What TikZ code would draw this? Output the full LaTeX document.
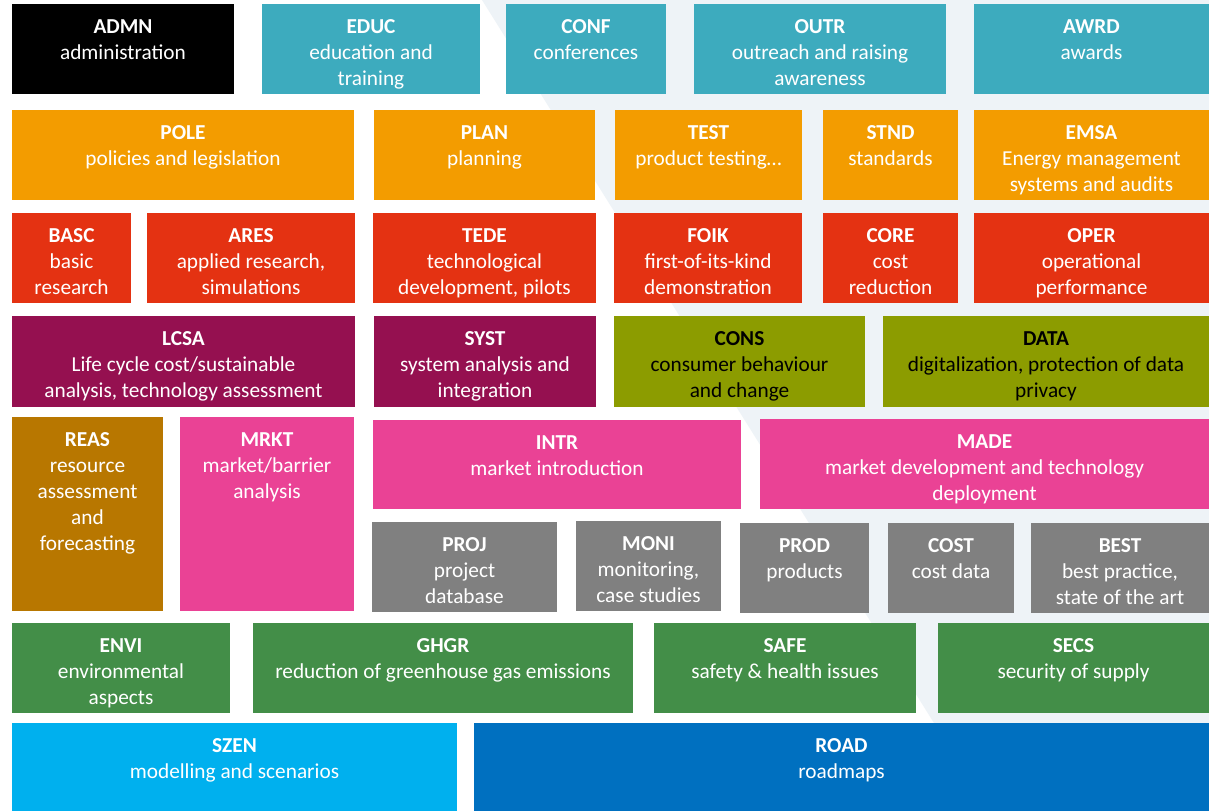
\documentclass[tikz,border=0pt]{standalone}
\usepackage{fontspec}
\setmainfont{Carlito}

% palette of the topic groups
\definecolor{paleback}{RGB}{238,243,247}
\definecolor{tealc}{RGB}{61,171,190}
\definecolor{orangec}{RGB}{243,156,0}
\definecolor{redc}{RGB}{228,50,18}
\definecolor{maroonc}{RGB}{149,16,80}
\definecolor{olivec}{RGB}{140,156,0}
\definecolor{ochrec}{RGB}{184,119,0}
\definecolor{pinkc}{RGB}{234,66,149}
\definecolor{greyc}{RGB}{128,128,128}
\definecolor{greenc}{RGB}{67,142,72}
\definecolor{skyc}{RGB}{0,176,238}
\definecolor{bluec}{RGB}{0,112,192}

\tikzset{
  tile/.style={rectangle, inner sep=0pt, outer sep=0pt, draw=none},
  tiletext/.style={align=center, inner sep=0pt, anchor=north, text=white,
    font=\fontsize{21.3}{26}\selectfont},
}

% \catbox[text options]{name}{x1}{y1}{x2}{y2}{fill}{code}{description}
\newcommand\catbox[9][]{%
  \node[tile, fill=#7, minimum width={(#5-#3)*1pt}, minimum height={(#6-#4)*1pt}]
    (#2) at ({(#3+#5)/2},{(#4+#6)/2}) {};
  \node[tiletext, #1] (#2-t) at ([yshift=-15.5pt]#2.north)
    {\rule{0pt}{14pt}\textbf{#8}\\#9};
}

\begin{document}
\begin{tikzpicture}[x=1pt, y=-1pt]
  \useasboundingbox (0,0) rectangle (1209,811);
  \fill[white] (0,0) rectangle (1209,811);
  % pale diagonal backdrop on the right
  \fill[paleback] (482,0) -- (1209,0) -- (1209,811) -- (989,811) -- cycle;

  % row 1
  \catbox{admn}{12}{4}{234}{94}{black}{ADMN}{administration}
  \catbox{educ}{262}{4}{480}{94}{tealc}{EDUC}{education and\\training}
  \catbox{conf}{506}{4}{666}{94}{tealc}{CONF}{conferences}
  \catbox{outr}{694}{4}{946}{94}{tealc}{OUTR}{outreach and raising\\awareness}
  \catbox{awrd}{974}{4}{1209}{94}{tealc}{AWRD}{awards}

  % row 2
  \catbox{pole}{12}{110}{354}{200}{orangec}{POLE}{policies and legislation}
  \catbox{plan}{374}{110}{595}{200}{orangec}{PLAN}{planning}
  \catbox{test}{615}{110}{802}{200}{orangec}{TEST}{product testing…}
  \catbox{stnd}{823}{110}{958}{200}{orangec}{STND}{standards}
  \catbox{emsa}{974}{110}{1209}{200}{orangec}{EMSA}{Energy management\\systems and audits}

  % row 3
  \catbox{basc}{12}{213}{131}{303}{redc}{BASC}{basic\\research}
  \catbox{ares}{147}{213}{355}{303}{redc}{ARES}{applied research,\\simulations}
  \catbox{tede}{373}{213}{596}{303}{redc}{TEDE}{technological\\development, pilots}
  \catbox{foik}{614}{213}{802}{303}{redc}{FOIK}{first-of-its-kind\\demonstration}
  \catbox{core}{823}{213}{958}{303}{redc}{CORE}{cost\\reduction}
  \catbox{oper}{974}{213}{1209}{303}{redc}{OPER}{operational\\performance}

  % row 4
  \catbox{lcsa}{12}{316}{355}{407}{maroonc}{LCSA}{Life cycle cost/sustainable\\analysis, technology assessment}
  \catbox{syst}{374}{316}{596}{407}{maroonc}{SYST}{system analysis and\\integration}
  \catbox[text=black]{cons}{614}{316}{865}{407}{olivec}{CONS}{consumer behaviour\\and change}
  \catbox[text=black]{data}{883}{316}{1209}{407}{olivec}{DATA}{digitalization, protection of data\\privacy}

  % row 5
  \catbox{reas}{12}{417}{163}{611}{ochrec}{REAS}{resource\\assessment\\and\\forecasting}
  \catbox{mrkt}{180}{417}{354}{611}{pinkc}{MRKT}{market/barrier\\analysis}
  \catbox{intr}{373}{420}{741}{509}{pinkc}{INTR}{market introduction}
  \catbox{made}{760}{419}{1209}{509}{pinkc}{MADE}{market development and technology\\deployment}
  \catbox{proj}{372}{522}{557}{612}{greyc}{PROJ}{project\\database}
  \catbox{moni}{576}{521}{721}{611}{greyc}{MONI}{monitoring,\\case studies}
  \catbox{prod}{740}{523}{869}{613}{greyc}{PROD}{products}
  \catbox{cost}{888}{523}{1014}{613}{greyc}{COST}{cost data}
  \catbox{best}{1031}{523}{1209}{613}{greyc}{BEST}{best practice,\\state of the art}

  % row 6
  \catbox{envi}{12}{623}{230}{713}{greenc}{ENVI}{environmental\\aspects}
  \catbox{ghgr}{253}{623}{633}{713}{greenc}{GHGR}{reduction of greenhouse gas emissions}
  \catbox{safe}{654}{623}{916}{713}{greenc}{SAFE}{safety \& health issues}
  \catbox{secs}{938}{623}{1209}{713}{greenc}{SECS}{security of supply}

  % row 7
  \catbox{szen}{12}{723}{457}{811}{skyc}{SZEN}{modelling and scenarios}
  \catbox{road}{474}{723}{1209}{811}{bluec}{ROAD}{roadmaps}
\end{tikzpicture}
\end{document}
